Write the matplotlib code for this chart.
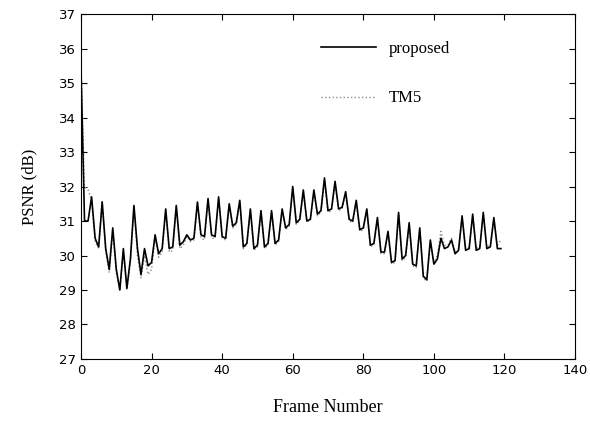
import numpy as np
import matplotlib
matplotlib.use("Agg")
import matplotlib.pyplot as plt

# frame numbers 0..119
frames = np.arange(120)

proposed = [
    35.4, 31.0, 31.0, 31.7, 30.5, 30.25, 31.55, 30.2, 29.6, 30.8,
    29.6, 29.0, 30.2, 29.05, 29.9, 31.45, 30.2, 29.45, 30.2, 29.7,
    29.8, 30.6, 30.05, 30.2, 31.35, 30.2, 30.25, 31.45, 30.3, 30.4,
    30.6, 30.45, 30.5, 31.55, 30.6, 30.55, 31.65, 30.6, 30.55, 31.7,
    30.55, 30.5, 31.5, 30.85, 30.95, 31.6, 30.25, 30.35, 31.35, 30.2,
    30.3, 31.3, 30.25, 30.35, 31.3, 30.35, 30.45, 31.35, 30.8, 30.9,
    32.0, 30.95, 31.05, 31.9, 31.0, 31.05, 31.9, 31.2, 31.3, 32.25,
    31.3, 31.35, 32.15, 31.35, 31.4, 31.85, 31.05, 31.0, 31.6, 30.75,
    30.8, 31.35, 30.3, 30.35, 31.1, 30.1, 30.1, 30.7, 29.8, 29.85,
    31.25, 29.9, 30.0, 30.95, 29.75, 29.7, 30.8, 29.4, 29.3, 30.45,
    29.75, 29.9, 30.5, 30.2, 30.25, 30.45, 30.05, 30.15, 31.15, 30.15,
    30.2, 31.2, 30.15, 30.2, 31.25, 30.2, 30.25, 31.1, 30.2, 30.2,
]

tm5 = [
    35.6, 32.0, 31.9, 31.6, 30.4, 30.2, 31.6, 30.1, 29.5, 30.7,
    29.5, 29.0, 30.1, 29.0, 29.8, 31.4, 30.0, 29.35, 30.0, 29.45,
    29.6, 30.5, 29.95, 30.1, 31.3, 30.1, 30.15, 31.4, 30.2, 30.3,
    30.55, 30.4, 30.45, 31.5, 30.5, 30.45, 31.6, 30.5, 30.5, 31.65,
    30.5, 30.45, 31.45, 30.8, 30.9, 31.55, 30.2, 30.3, 31.3, 30.15,
    30.25, 31.25, 30.2, 30.3, 31.25, 30.3, 30.4, 31.3, 30.75, 30.85,
    31.95, 30.9, 31.0, 31.85, 31.0, 31.0, 31.85, 31.15, 31.25, 32.2,
    31.25, 31.3, 32.1, 31.3, 31.35, 31.8, 31.0, 30.95, 31.55, 30.7,
    30.75, 31.3, 30.25, 30.3, 31.05, 30.05, 30.05, 30.65, 29.75, 29.8,
    31.2, 29.85, 29.95, 30.9, 29.7, 29.65, 30.75, 29.35, 29.25, 30.4,
    29.8, 30.0, 30.7, 30.3, 30.3, 30.5, 30.1, 30.2, 31.1, 30.2,
    30.25, 31.15, 30.2, 30.25, 31.2, 30.25, 30.3, 31.05, 30.3, 30.45,
]

fig = plt.figure(figsize=(5.9, 4.26), dpi=100)
ax = fig.add_axes([0.1373, 0.1573, 0.8373, 0.8097])

ax.plot(frames, tm5, color="#8c8c8c", linestyle=":", linewidth=1.0, label="TM5")
ax.plot(frames, proposed, color="black", linewidth=1.2, label="proposed")

ax.set_xlim(0, 140)
ax.set_ylim(27, 37)
ax.set_xticks(range(0, 141, 20))
ax.set_yticks(range(27, 38))
ax.tick_params(direction="in", top=True, right=True, length=4, labelsize=9.5)

ax.set_xlabel("Frame Number", family="Liberation Serif", fontsize=13, labelpad=16)
ax.set_ylabel("PSNR (dB)", family="Liberation Serif", fontsize=12, labelpad=16)

# legend: proposed first, no frame, wide row spacing
handles, labels = ax.get_legend_handles_labels()
ax.legend(handles[::-1], labels[::-1], loc="upper left", bbox_to_anchor=(0.455, 0.965),
          frameon=False, handlelength=3.3, labelspacing=2.0,
          prop={"family": "Liberation Serif", "size": 12})

fig.savefig("out.png", dpi=100)
